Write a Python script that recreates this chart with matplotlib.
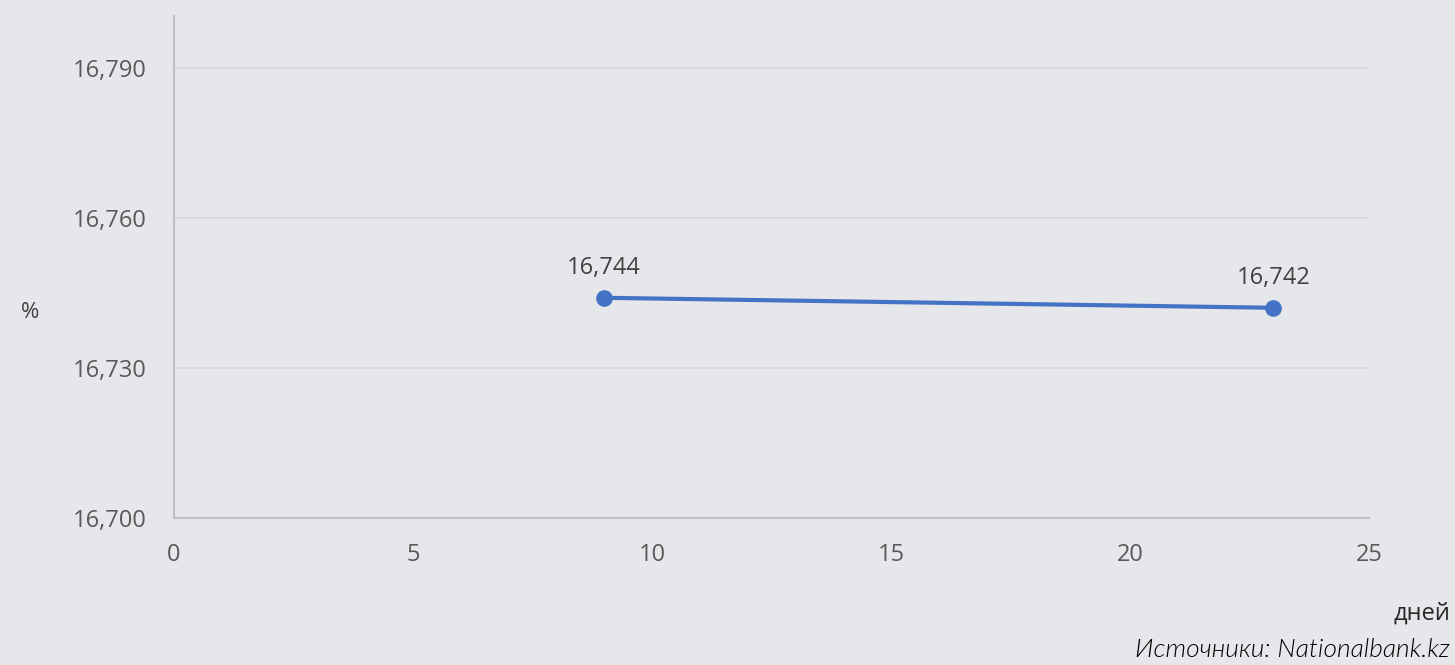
import matplotlib
matplotlib.use("Agg")
import matplotlib.pyplot as plt

days = [9, 23]
rates = [16.744, 16.742]
labels = ["16,744", "16,742"]
yticks = [16.700, 16.730, 16.760, 16.790]
ytick_labels = ["16,700", "16,730", "16,760", "16,790"]
xticks = [0, 5, 10, 15, 20, 25]

bg = "#E5E7EA"
txt = "#595959"

fig = plt.figure(figsize=(14.55, 6.65), dpi=100, facecolor=bg)
ax = fig.add_axes([174/1455, 1-518/665, (1369-174)/1455, (518-16)/665])
ax.set_facecolor(bg)

ax.plot(days, rates, color="#4472C4", lw=3, marker="o", ms=11, zorder=3)
for x, y, l in zip(days, rates, labels):
    ax.annotate(l, (x, y), xytext=(0, 13), textcoords="offset points",
                ha="center", va="bottom", fontsize=17, color="#404040", family="Open Sans")

ax.set_xlim(0, 25)
ax.set_ylim(16.700, 16.8003)
ax.set_xticks(xticks)
ax.set_yticks(yticks)
ax.set_yticklabels(ytick_labels)
ax.grid(axis="y", color="#D6D6D6", lw=1.2)
ax.set_axisbelow(True)
for s in ["top", "right"]:
    ax.spines[s].set_visible(False)
for s in ["left", "bottom"]:
    ax.spines[s].set_color("#BFBFBF")
    ax.spines[s].set_linewidth(1.5)
ax.tick_params(length=0, labelsize=17, labelcolor=txt)
for t in ax.get_xticklabels() + ax.get_yticklabels():
    t.set_family("Open Sans")
ax.tick_params(axis="x", pad=18)
ax.tick_params(axis="y", pad=20)

fig.text(30/1455, 1-312/665, "%", ha="center", va="center", fontsize=16, color="#404040", family="Open Sans")
fig.text(1450/1455, 1-614/665, "дней", ha="right", va="center", fontsize=17, color="#262626", family="Open Sans")
fig.text(1450/1455, 1-650/665, "Источники: Nationalbank.kz", ha="right", va="center",
         fontsize=19, color="#000000", family="Lato", style="italic", weight=300)

fig.savefig("out.png", dpi=100, facecolor=bg)
